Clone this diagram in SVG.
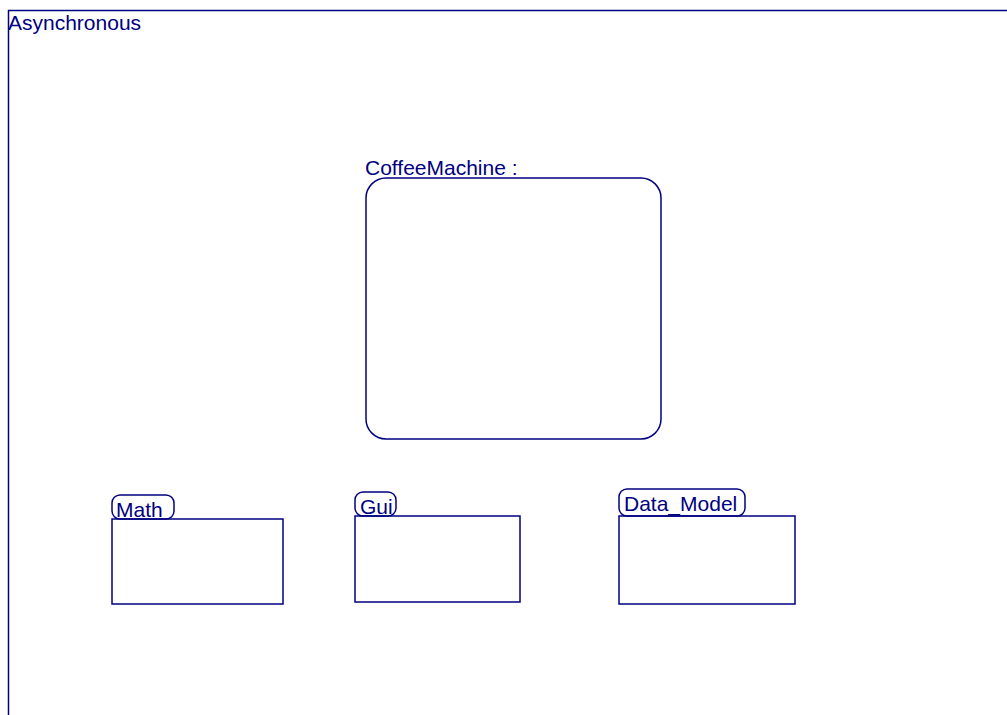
<svg xmlns="http://www.w3.org/2000/svg" width="1007" height="715" viewBox="0 0 1007 715">
<style>
.s{fill:none;stroke:#000080;stroke-width:1.5}
.t{font-family:"Liberation Sans",Arial,sans-serif;font-size:21px;fill:#000080}
</style>
<rect width="1007" height="715" fill="#fff"/>
<g id="frame">
<rect class="s" x="8.5" y="10.5" width="1100" height="800"/>
<text class="t" x="8" y="30">Asynchronous</text>
</g>
<g id="coffeemachine">
<rect class="s" x="366" y="178" width="295" height="261" rx="20" ry="20"/>
<text class="t" x="365" y="175">CoffeeMachine :</text>
</g>
<g id="math">
<rect class="s" x="112" y="495" width="62" height="24" rx="8" ry="8"/>
<rect class="s" x="112" y="519" width="171" height="85"/>
<text class="t" x="116" y="517">Math</text>
</g>
<g id="gui">
<rect class="s" x="355" y="492" width="41" height="24" rx="8" ry="8"/>
<rect class="s" x="355" y="516" width="165" height="86"/>
<text class="t" x="360" y="514">Gui</text>
</g>
<g id="data_model">
<rect class="s" x="619" y="489" width="126" height="27" rx="8" ry="8"/>
<rect class="s" x="619" y="516" width="176" height="88"/>
<text class="t" x="624" y="511">Data_Model</text>
</g>
<g id="connectors"></g>
</svg>
